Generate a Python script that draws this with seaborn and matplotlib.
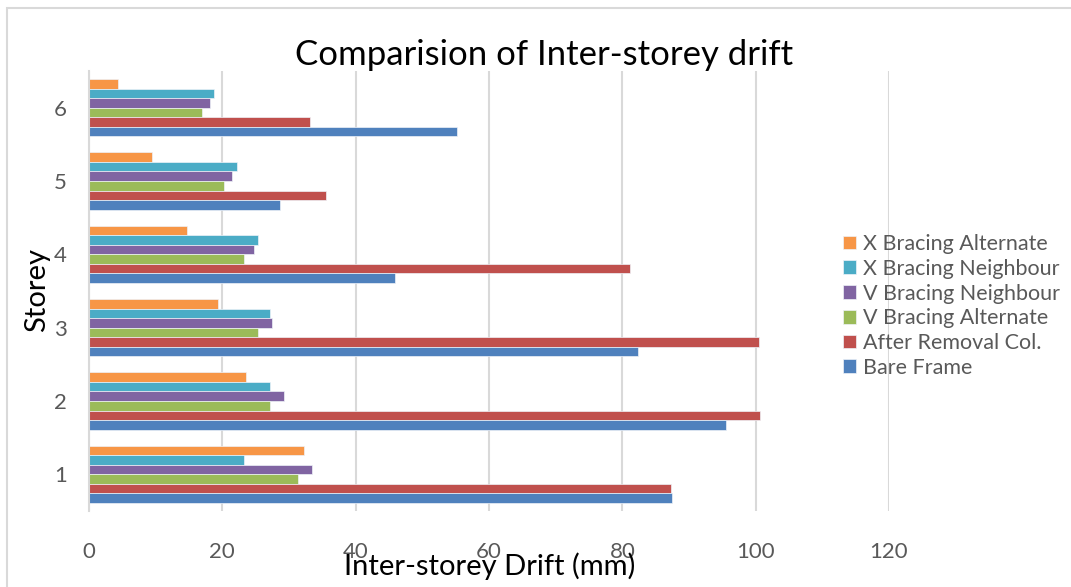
import matplotlib
matplotlib.use("Agg")
import matplotlib.pyplot as plt
import seaborn as sns
import pandas as pd
from matplotlib.patches import Rectangle

storeys = ["1", "2", "3", "4", "5", "6"]
series_names = ["Bare Frame", "After Removal Col.", "V Bracing Alternate",
                "V Bracing Neighbour", "X Bracing Neighbour", "X Bracing Alternate"]
bare_frame = [87.5, 95.5, 82.3, 45.9, 28.6, 55.2]
after_removal = [87.3, 100.7, 100.5, 81.2, 35.5, 33.2]
v_alternate = [31.3, 27.2, 25.3, 23.2, 20.3, 17.0]
v_neighbour = [33.5, 29.2, 27.4, 24.8, 21.5, 18.2]
x_neighbour = [23.2, 27.2, 27.2, 25.3, 22.2, 18.8]
x_alternate = [32.3, 23.6, 19.3, 14.7, 9.4, 4.3]
x_ticks = [0, 20, 40, 60, 80, 100, 120]

colors = {"Bare Frame": "#4F81BD", "After Removal Col.": "#C0504D",
          "V Bracing Alternate": "#9BBB59", "V Bracing Neighbour": "#8064A2",
          "X Bracing Neighbour": "#4BACC6", "X Bracing Alternate": "#F79646"}

values = [bare_frame, after_removal, v_alternate, v_neighbour, x_neighbour, x_alternate]
rows = []
for name, vals in zip(series_names, values):
    for s, v in zip(storeys, vals):
        rows.append({"Storey": s, "Series": name, "Drift": v})
df = pd.DataFrame(rows)

sns.set_theme(style="white")
plt.rcParams["font.family"] = ["Lato", "DejaVu Sans"]

fig = plt.figure(figsize=(10.71, 5.87), dpi=100)
ax = fig.add_axes([89 / 1071, 1 - 511 / 587, 800 / 1071, 440 / 587])

hue_order = series_names[::-1]
sns.barplot(data=df, y="Storey", x="Drift", hue="Series", orient="h",
            order=storeys[::-1], hue_order=hue_order, palette=colors, saturation=1,
            width=0.78, edgecolor="#EEF2F8", linewidth=0.5, ax=ax, legend=True)

ax.set_xlim(0, 120)
ax.set_xticks(x_ticks)
ax.set_xticklabels([str(t) for t in x_ticks], fontsize=16, color="#595959")
ax.set_yticklabels(storeys[::-1], fontsize=16, color="#595959")
ax.tick_params(axis="x", length=0, pad=22)
ax.tick_params(axis="y", length=0, pad=16)
ax.grid(axis="x", color="#D9D9D9", linewidth=1.5)
ax.set_axisbelow(True)
for side in ["top", "right", "bottom"]:
    ax.spines[side].set_visible(False)
ax.spines["left"].set_color("#D9D9D9")
ax.spines["left"].set_linewidth(1.5)

ax.set_xlabel("Inter-storey Drift (mm)", fontsize=21, color="black")
ax.set_ylabel("Storey", fontsize=21, color="black")
ax.xaxis.set_label_coords((490 - 89) / 800, -(552 - 511) / 440)
ax.yaxis.set_label_coords(-(89 - 50) / 800, (511 - 290) / 440)

fig.text(544 / 1071, 1 - 55 / 587, "Comparision of Inter-storey drift",
         fontsize=25, color="black", ha="center", va="center")

handles, labels = ax.get_legend_handles_labels()
leg = ax.legend(handles, labels, loc="center left", bbox_to_anchor=(834 / 1071, 1 - 306 / 587),
                bbox_transform=fig.transFigure, frameon=False, fontsize=15.5,
                handlelength=0.6, handleheight=0.6, handletextpad=0.35, labelspacing=0.22,
                borderaxespad=0)
for t in leg.get_texts():
    t.set_color("#595959")

fig.patches.append(Rectangle((7 / 1071, -0.1), 1.2, 1 - 8 / 587 + 0.1,
                             transform=fig.transFigure, fill=False,
                             edgecolor="#D9D9D9", linewidth=1.5, zorder=-1))

fig.savefig("out.png", dpi=100)
